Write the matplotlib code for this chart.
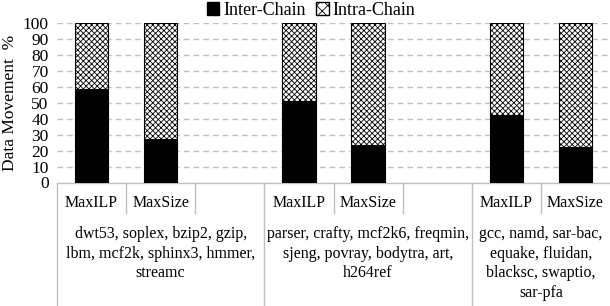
import matplotlib
matplotlib.use("Agg")
import matplotlib.pyplot as plt
from matplotlib.patches import Patch
from matplotlib.transforms import blended_transform_factory

plt.rcParams['font.family'] = ['Liberation Serif', 'DejaVu Serif']

# Data
categories = ['MaxILP', 'MaxSize', '', 'MaxILP', 'MaxSize', '', 'MaxILP', 'MaxSize']
inter_chain = [58.5, 27.5, None, 51.0, 23.5, None, 42.5, 22.5]
group_labels = [
    "dwt53, soplex, bzip2, gzip,\nlbm, mcf2k, sphinx3, hmmer,\nstreamc",
    "parser, crafty, mcf2k6, freqmin,\nsjeng, povray, bodytra, art,\nh264ref",
    "gcc, namd, sar-bac,\nequake, fluidan,\nblacksc, swaptio,\nsar-pfa",
]
group_spans = [(0, 2), (3, 5), (6, 7)]  # slot ranges
yticks = list(range(0, 101, 10))

W, H = 610, 306
fig = plt.figure(figsize=(W / 100, H / 100), dpi=100)
left_px, right_px, top_px, zero_px = 57, 610, 23.3, 182.5
ax = fig.add_axes([left_px / W, 1 - zero_px / H, (right_px - left_px) / W, (zero_px - top_px) / H])

xs = [i for i, v in enumerate(inter_chain) if v is not None]
inter = [inter_chain[i] for i in xs]
intra = [100 - v for v in inter]
plt.rcParams['hatch.linewidth'] = 0.6
ax.bar(xs, inter, width=0.48, color='black', edgecolor='black', linewidth=0.8, zorder=3)
ax.bar(xs, intra, bottom=inter, width=0.48, color='white', edgecolor='black',
       hatch='xxxxxx', linewidth=0.8, zorder=3)

ax.set_xlim(-0.5, len(categories) - 0.5)
ax.set_ylim(0, 100)
ax.set_yticks(yticks)
ax.tick_params(axis='y', length=0, labelsize=12.5, pad=6)
ax.set_xticks([])
for s in ['top', 'right', 'left']:
    ax.spines[s].set_visible(False)
ax.spines['bottom'].set_color('#bfbfbf')
ax.spines['bottom'].set_linewidth(1)
for y in yticks[1:]:
    ax.axhline(y, color='#bfbfbf', linestyle=(0, (4, 3)), linewidth=1, zorder=1)

ax.set_ylabel('Data Movement  %', fontsize=12.5)
ax.yaxis.set_label_coords(-0.07, 0.5)

# Category axis lines and labels
tr = blended_transform_factory(ax.transData, fig.transFigure)
def fy(px):
    return 1 - px / H

grp_edges = [-0.5, 2.5, 5.5]
for i in range(len(categories)):
    xe = i - 0.5
    if xe in grp_edges:
        ax.plot([xe, xe], [fy(zero_px), fy(H)], transform=tr, color='#bfbfbf', lw=1, clip_on=False)
    else:
        ax.plot([xe, xe], [fy(zero_px), fy(213)], transform=tr, color='#bfbfbf', lw=1, clip_on=False)
    if categories[i]:
        ax.text(i, fy(203), categories[i], transform=tr, ha='center', va='center', fontsize=11.5)

for (a, b), lab in zip(group_spans, group_labels):
    cx = (a - 0.5 + b + 0.5) / 2
    ax.text(cx, fy(226), lab, transform=tr, ha='center', va='top', fontsize=11.5,
            linespacing=1.3, multialignment='center')

handles = [Patch(facecolor='black', edgecolor='black'),
           Patch(facecolor='white', edgecolor='black', hatch='xxx')]
fig.legend(handles, ['Inter-Chain', 'Intra-Chain'], loc='upper center', bbox_to_anchor=(0.51, 0.995),
           ncol=2, frameon=False, fontsize=13, handlelength=0.7, handleheight=0.7,
           handletextpad=0.2, columnspacing=0.6, borderaxespad=0, borderpad=0)

fig.savefig('out.png', dpi=100)
